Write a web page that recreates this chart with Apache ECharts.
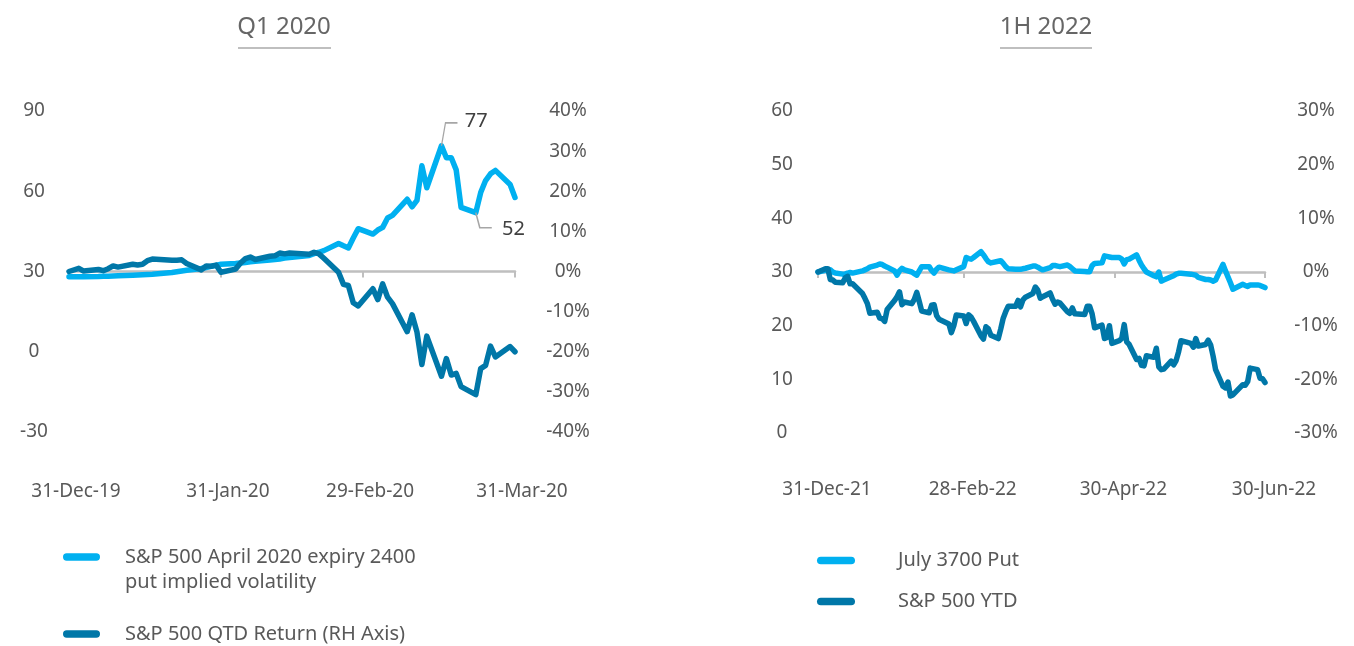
<!DOCTYPE html>
<html>
<head>
<meta charset="utf-8">
<script src="https://cdn.jsdelivr.net/npm/echarts@6/dist/echarts.min.js"></script>
<style>
html,body{margin:0;padding:0;background:#fff;}
#chart{width:1354px;height:646px;}
</style>
</head>
<body>
<div id="chart"></div>
<script>
// ---------- DATA ----------
const q1Title = 'Q1 2020';
const h1Title = '1H 2022';

const q1VolName = 'S&P 500 April 2020 expiry 2400 put implied volatility';
const q1VolLegend = '\nS&P 500 April 2020 expiry 2400\nput implied volatility';
const q1RetName = 'S&P 500 QTD Return (RH Axis)';
const h1PutName = 'July 3700 Put';
const h1SpxName = 'S&P 500 YTD';

const q1TickDates = ['2019-12-31', '2020-01-31', '2020-02-29', '2020-03-31'];
const q1TickLabels = ['31-Dec-19', '31-Jan-20', '29-Feb-20', '31-Mar-20'];
const h1TickDates = ['2021-12-31', '2022-02-28', '2022-04-30', '2022-06-30'];
const h1TickLabels = ['31-Dec-21', '28-Feb-22', '30-Apr-22', '30-Jun-22'];

const q1Dates = [
  '2019-12-31',
  '2020-01-02','2020-01-03','2020-01-06','2020-01-07','2020-01-08','2020-01-09','2020-01-10',
  '2020-01-13','2020-01-14','2020-01-15','2020-01-16','2020-01-17',
  '2020-01-21','2020-01-22','2020-01-23','2020-01-24',
  '2020-01-27','2020-01-28','2020-01-29','2020-01-30','2020-01-31',
  '2020-02-03','2020-02-04','2020-02-05','2020-02-06','2020-02-07',
  '2020-02-10','2020-02-11','2020-02-12','2020-02-13','2020-02-14',
  '2020-02-18','2020-02-19','2020-02-20','2020-02-21',
  '2020-02-24','2020-02-25','2020-02-26','2020-02-27','2020-02-28',
  '2020-03-02','2020-03-03','2020-03-04','2020-03-05','2020-03-06',
  '2020-03-09','2020-03-10','2020-03-11','2020-03-12','2020-03-13',
  '2020-03-16','2020-03-17','2020-03-18','2020-03-19','2020-03-20',
  '2020-03-23','2020-03-24','2020-03-25','2020-03-26','2020-03-27',
  '2020-03-30','2020-03-31'
];
const q1Vol = [
  28.0,
  28.0,28.0,28.1,28.2,28.2,28.3,28.4,
  28.6,28.7,28.8,28.9,29.0,
  29.6,29.9,30.2,30.5,
  31.1,31.5,31.9,32.3,32.7,
  33.0,33.2,33.4,33.6,33.8,
  34.3,34.5,34.7,35.0,35.2,
  36.0,36.7,37.2,37.8,
  40.5,39.6,38.8,42.5,46.0,
  44.0,45.5,46.5,50.0,51.0,
  57.0,54.2,56.6,69.5,61.3,
  77,72.5,72.5,68.0,54.0,
  52,59.5,64.0,66.5,67.8,
  62.5,57.7
];
const q1Ret = [
  0,
  0.8,0.1,0.5,0.2,0.7,1.4,1.1,
  1.8,1.6,1.8,2.7,3.1,
  2.8,2.8,2.9,2.0,
  0.4,1.4,1.3,1.6,-0.2,
  0.6,2.1,3.2,3.6,3.0,
  3.8,3.9,4.6,4.4,4.6,
  4.3,4.8,4.4,3.3,
  -0.2,-3.2,-3.5,-7.8,-8.6,
  -4.3,-7.0,-3.1,-6.4,-8.0,
  -15.0,-10.8,-15.1,-23.2,-16.1,
  -26.1,-21.7,-25.8,-25.4,-28.7,
  -30.7,-24.2,-23.4,-18.6,-21.3,
  -18.7,-20.0
];

const h1Dates = [
  '2021-12-31',
  '2022-01-03','2022-01-04','2022-01-05','2022-01-06','2022-01-07',
  '2022-01-10','2022-01-11','2022-01-12','2022-01-13','2022-01-14',
  '2022-01-18','2022-01-19','2022-01-20','2022-01-21',
  '2022-01-24','2022-01-25','2022-01-26','2022-01-27','2022-01-28',
  '2022-01-31','2022-02-01','2022-02-02','2022-02-03','2022-02-04',
  '2022-02-07','2022-02-08','2022-02-09','2022-02-10','2022-02-11',
  '2022-02-14','2022-02-15','2022-02-16','2022-02-17','2022-02-18',
  '2022-02-22','2022-02-23','2022-02-24','2022-02-25',
  '2022-02-28','2022-03-01','2022-03-02','2022-03-03','2022-03-04',
  '2022-03-07','2022-03-08','2022-03-09','2022-03-10','2022-03-11',
  '2022-03-14','2022-03-15','2022-03-16','2022-03-17','2022-03-18',
  '2022-03-21','2022-03-22','2022-03-23','2022-03-24','2022-03-25',
  '2022-03-28','2022-03-29','2022-03-30','2022-03-31','2022-04-01',
  '2022-04-04','2022-04-05','2022-04-06','2022-04-07','2022-04-08',
  '2022-04-11','2022-04-12','2022-04-13','2022-04-14',
  '2022-04-18','2022-04-19','2022-04-20','2022-04-21','2022-04-22',
  '2022-04-25','2022-04-26','2022-04-27','2022-04-28','2022-04-29',
  '2022-05-02','2022-05-03','2022-05-04','2022-05-05','2022-05-06',
  '2022-05-09','2022-05-10','2022-05-11','2022-05-12','2022-05-13',
  '2022-05-16','2022-05-17','2022-05-18','2022-05-19','2022-05-20',
  '2022-05-23','2022-05-24','2022-05-25','2022-05-26','2022-05-27',
  '2022-05-31','2022-06-01','2022-06-02','2022-06-03',
  '2022-06-06','2022-06-07','2022-06-08','2022-06-09','2022-06-10',
  '2022-06-13','2022-06-14','2022-06-15','2022-06-16','2022-06-17',
  '2022-06-21','2022-06-22','2022-06-23','2022-06-24',
  '2022-06-27','2022-06-28','2022-06-29','2022-06-30'
];
const h1Put = [
  30.0,
  30.3,30.4,30.4,30.0,29.8,
  29.6,29.6,29.8,29.9,29.8,
  30.2,30.4,30.6,30.9,
  31.3,31.5,31.4,31.1,30.9,
  30.2,29.4,30.2,30.7,30.4,
  30.0,29.7,29.4,30.2,31.0,
  31.0,30.3,29.8,30.5,30.9,
  30.4,30.3,30.2,30.4,
  31.0,32.7,32.5,32.4,32.7,
  33.8,33.2,32.5,31.9,31.7,
  32.0,32.1,31.6,31.0,30.6,
  30.5,30.5,30.5,30.6,30.7,
  31.1,31.1,30.9,30.6,30.4,
  30.8,31.2,31.2,31.1,31.0,
  31.3,31.0,30.6,30.2,
  30.1,30.05,30.05,31.2,31.6,
  31.7,33.0,32.9,32.8,32.7,
  32.7,32.4,31.5,32.3,32.4,
  33.2,32.2,31.3,30.6,30.0,
  29.3,29.1,30.0,28.3,28.5,
  29.1,29.3,29.6,29.75,29.75,
  29.6,29.5,29.4,29.0,
  28.6,28.6,28.5,28.3,28.5,
  31.4,30.2,29.1,28.0,26.8,
  27.7,27.5,27.3,27.6,
  27.6,27.5,27.3,27.1
];
const h1Spx = [
  0,
  0.6,0.6,-1.4,-1.5,-1.9,
  -2.0,-1.1,-0.8,-2.2,-2.2,
  -4.0,-4.9,-5.9,-7.7,
  -7.5,-8.6,-8.7,-9.2,-7.0,
  -5.3,-4.6,-3.7,-6.1,-5.6,
  -5.9,-5.1,-3.8,-5.5,-7.3,
  -7.6,-6.2,-6.1,-8.1,-8.8,
  -9.7,-11.3,-10.0,-8.0,
  -8.2,-9.6,-8.0,-8.4,-9.2,
  -11.9,-12.5,-10.2,-10.6,-11.8,
  -12.4,-10.6,-8.6,-7.4,-6.4,
  -6.4,-5.3,-6.5,-5.2,-4.7,
  -4.0,-2.8,-3.4,-4.9,-4.6,
  -3.9,-5.1,-6.0,-5.6,-5.8,
  -7.4,-7.7,-6.7,-7.8,
  -7.9,-6.4,-6.4,-7.8,-10.4,
  -9.9,-12.4,-12.2,-10.0,-13.3,
  -12.8,-12.4,-9.8,-13.0,-13.5,
  -16.3,-16.1,-17.4,-17.5,-15.6,
  -15.9,-14.2,-17.7,-18.2,-18.1,
  -16.6,-17.3,-16.5,-14.9,-12.8,
  -13.3,-14.0,-12.4,-13.8,
  -13.5,-12.7,-13.6,-15.7,-18.2,
  -21.3,-21.6,-20.5,-23.1,-22.9,
  -21.0,-21.1,-20.4,-17.9,
  -18.2,-19.8,-19.9,-20.6
];

// ---------- STYLE ----------
const FONT = "'Noto Sans', sans-serif";
const TXT = '#595959';
const LIGHT = '#00b0f0';
const DARK = '#0077a8';
const BASE = '#bfbfbf';

function toTime(s) {
  const p = s.split('-').map(Number);
  return new Date(p[0], p[1] - 1, p[2]).getTime();
}
function pairs(dates, vals) { return dates.map((d, i) => [toTime(d), vals[i]]); }
function tickFormatter(tickDates, tickLabels) {
  const ts = tickDates.map(toTime);
  return function (v) {
    let best = 0, bd = Infinity;
    ts.forEach((t, i) => { const d = Math.abs(t - v); if (d < bd) { bd = d; best = i; } });
    return tickLabels[best];
  };
}

const peakIdx = q1Vol.indexOf(Math.max(...q1Vol));
const after = q1Vol.slice(peakIdx);
const troughIdx = peakIdx + after.indexOf(Math.min(...after));

function labelAxis(gridIndex, tickDates, tickLabels, pad, margin) {
  return {
    type: 'value', gridIndex: gridIndex, scale: true,
    min: toTime(tickDates[0]), max: toTime(tickDates[tickDates.length - 1]),
    position: 'bottom',
    axisLine: { show: false, onZero: false },
    axisTick: { show: false },
    splitLine: { show: false },
    axisLabel: {
      customValues: tickDates.map(toTime),
      formatter: tickFormatter(tickDates, tickLabels),
      color: TXT, fontFamily: FONT, fontSize: 19, margin: margin,
      padding: [0, 0, 0, pad], hideOverlap: false,
      showMinLabel: true, showMaxLabel: true
    }
  };
}
function baseAxis(gridIndex, zeroAxis, tickDates) {
  return {
    type: 'value', gridIndex: gridIndex, scale: true,
    min: toTime(tickDates[0]), max: toTime(tickDates[tickDates.length - 1]),
    position: 'bottom',
    axisLine: { show: true, onZero: true, onZeroAxisIndex: zeroAxis, lineStyle: { color: BASE, width: 2.5 } },
    axisTick: { show: true, length: 6, customValues: tickDates.map(toTime), lineStyle: { color: BASE, width: 2 } },
    splitLine: { show: false },
    axisLabel: { show: false }
  };
}
function valAxis(gridIndex, pos, min, max, interval, pct, margin) {
  return {
    type: 'value', gridIndex: gridIndex, position: pos,
    min: min, max: max, interval: interval,
    axisLine: { show: false }, axisTick: { show: false }, splitLine: { show: false },
    axisLabel: {
      color: TXT, fontFamily: FONT, fontSize: 19, align: 'center', margin: margin,
      formatter: pct ? '{value}%' : '{value}'
    }
  };
}
const lineStyleFor = c => ({ color: c, width: 5.5, cap: 'round', join: 'round' });
const pill = 'path://M4,0 L36,0 A4,4 0 0 1 36,8 L4,8 A4,4 0 0 1 4,0 Z';

const chart = echarts.init(document.getElementById('chart'), null, { renderer: 'canvas' });
chart.setOption({
  animation: false,
  backgroundColor: '#fff',
  textStyle: { fontFamily: FONT },
  grid: [
    { left: 69, top: 111, width: 446, height: 321 },
    { left: 818, top: 111, width: 447, height: 322 }
  ],
  xAxis: [
    labelAxis(0, q1TickDates, q1TickLabels, 14, 50),
    baseAxis(0, 1, q1TickDates),
    labelAxis(1, h1TickDates, h1TickLabels, 18, 47),
    baseAxis(1, 3, h1TickDates)
  ],
  yAxis: [
    valAxis(0, 'left', -30, 90, 30, false, 35),
    valAxis(0, 'right', -40, 40, 10, true, 53),
    valAxis(1, 'left', 0, 60, 10, false, 36),
    valAxis(1, 'right', -30, 30, 10, true, 51)
  ],
  legend: [
    {
      orient: 'vertical', left: 63, top: 519.5, padding: 0, itemGap: 27,
      itemWidth: 37, itemHeight: 8, icon: pill, selectedMode: false,
      textStyle: { color: TXT, fontFamily: FONT, fontSize: 20, lineHeight: 25, padding: [0, 0, 0, 20] },
      formatter: n => (n === q1VolName ? q1VolLegend : n),
      data: [q1VolName, q1RetName]
    },
    {
      orient: 'vertical', left: 817, top: 548, padding: 0, itemGap: 16,
      itemWidth: 38, itemHeight: 8, icon: pill, selectedMode: false,
      textStyle: { color: TXT, fontFamily: FONT, fontSize: 20, lineHeight: 25, padding: [0, 0, 0, 38] },
      data: [h1PutName, h1SpxName]
    }
  ],
  graphic: [
    { type: 'text', style: { x: 284, y: 27, text: q1Title, font: '24px ' + FONT, fill: '#666', textAlign: 'center', textVerticalAlign: 'middle' } },
    { type: 'line', shape: { x1: 238, y1: 48, x2: 331, y2: 48 }, style: { stroke: '#aaa', lineWidth: 1.5 } },
    { type: 'text', style: { x: 1046, y: 27, text: h1Title, font: '24px ' + FONT, fill: '#666', textAlign: 'center', textVerticalAlign: 'middle' } },
    { type: 'line', shape: { x1: 1000, y1: 48, x2: 1092, y2: 48 }, style: { stroke: '#aaa', lineWidth: 1.5 } }
  ],
  series: [
    {
      name: q1VolName, type: 'line', xAxisIndex: 0, yAxisIndex: 0,
      data: pairs(q1Dates, q1Vol), showSymbol: false, color: LIGHT,
      lineStyle: lineStyleFor(LIGHT), z: 2,
      markPoint: {
        silent: true,
        itemStyle: { color: 'rgba(0,0,0,0)', borderColor: '#a6a6a6', borderWidth: 1.5 },
        label: { show: true, formatter: '{c}', color: '#404040', fontFamily: FONT, fontSize: 20 },
        data: [
          {
            coord: [toTime(q1Dates[peakIdx]), q1Vol[peakIdx]], value: q1Vol[peakIdx],
            symbol: 'path://M0,23 L4,0 L16,0', symbolSize: [16, 23], symbolOffset: [8, -11.5],
            label: { position: [24, -11] }
          },
          {
            coord: [toTime(q1Dates[troughIdx]), q1Vol[troughIdx]], value: q1Vol[troughIdx],
            symbol: 'path://M0,0 L4,15 L16,15', symbolSize: [16, 15], symbolOffset: [8, 7.5],
            label: { position: [27, 7] }
          }
        ]
      }
    },
    {
      name: q1RetName, type: 'line', xAxisIndex: 0, yAxisIndex: 1,
      data: pairs(q1Dates, q1Ret), showSymbol: false, color: DARK,
      lineStyle: lineStyleFor(DARK), z: 3
    },
    {
      name: h1PutName, type: 'line', xAxisIndex: 2, yAxisIndex: 2,
      data: pairs(h1Dates, h1Put), showSymbol: false, color: LIGHT,
      lineStyle: lineStyleFor(LIGHT), z: 2
    },
    {
      name: h1SpxName, type: 'line', xAxisIndex: 2, yAxisIndex: 3,
      data: pairs(h1Dates, h1Spx), showSymbol: false, color: DARK,
      lineStyle: lineStyleFor(DARK), z: 3
    }
  ]
});
</script>
</body>
</html>
